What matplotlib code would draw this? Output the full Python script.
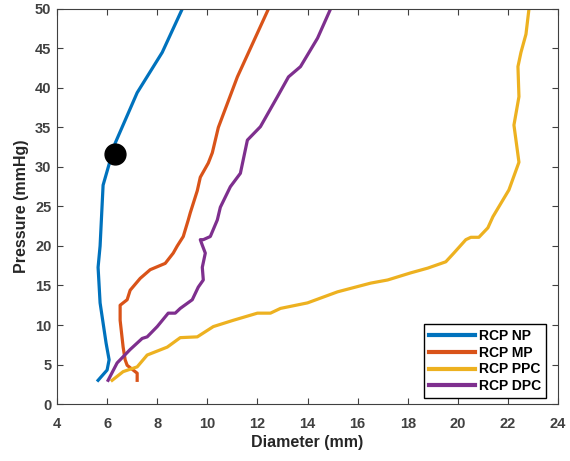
import matplotlib.pyplot as plt

plt.rcParams['font.family'] = ['Liberation Sans', 'DejaVu Sans']

np_x = [5.64, 6.0, 6.08, 5.96, 5.72, 5.64, 5.72, 5.84, 6.32, 7.2, 8.2, 9.0]
np_y = [3.0, 4.3, 5.6, 7.7, 12.8, 17.3, 20.0, 27.7, 33.0, 39.4, 44.5, 50.0]

mp_x = [7.2, 7.2, 7.04, 6.8, 6.72, 6.64, 6.52, 6.52, 6.8, 6.92, 7.32, 7.72, 8.32,
        8.64, 8.8, 9.04, 9.24, 9.32, 9.6, 9.72, 10.04, 10.2, 10.44, 11.2, 12.44]
mp_y = [3.0, 3.9, 4.3, 4.9, 5.6, 7.2, 10.6, 12.5, 13.2, 14.4, 15.9, 17.0, 17.8,
        19.1, 20.0, 21.2, 23.3, 24.2, 27.0, 28.7, 30.5, 31.8, 35.0, 41.4, 50.0]

ppc_x = [6.2, 6.64, 7.2, 7.44, 7.6, 8.4, 8.92, 9.6, 10.24, 11.04, 12.0, 12.52, 12.92,
         14.0, 15.2, 16.52, 17.2, 18.12, 18.8, 19.52, 19.84, 20.32, 20.52, 20.84,
         21.2, 21.4, 22.04, 22.44, 22.24, 22.44, 22.4, 22.52, 22.72, 22.84]
ppc_y = [3.0, 4.1, 4.7, 5.6, 6.2, 7.2, 8.4, 8.5, 9.8, 10.6, 11.5, 11.5, 12.1,
         12.8, 14.2, 15.3, 15.7, 16.6, 17.2, 18.0, 19.1, 20.8, 21.1, 21.1,
         22.3, 23.7, 27.1, 30.6, 35.3, 38.9, 42.7, 44.5, 46.8, 50.0]

dpc_x = [6.04, 6.4, 6.92, 7.4, 7.6, 8.0, 8.44, 8.72, 8.92, 9.4, 9.64, 9.84, 9.8,
         9.92, 9.8, 9.72, 9.84, 10.12, 10.4, 10.52, 10.92, 11.32, 11.6, 12.12,
         12.8, 13.24, 13.72, 14.4, 14.92]
dpc_y = [3.0, 5.2, 6.9, 8.3, 8.5, 9.8, 11.5, 11.5, 12.1, 13.2, 14.8, 15.7, 17.3,
         19.1, 20.1, 20.8, 20.8, 21.2, 23.3, 24.9, 27.5, 29.2, 33.4, 35.1,
         38.9, 41.4, 42.7, 46.3, 50.0]

labels = ['RCP NP', 'RCP MP', 'RCP PPC', 'RCP DPC']
colors = ['#0072BD', '#D95319', '#EDB120', '#7E2F8E']

dot_x, dot_y = 6.32, 31.6

fig = plt.figure(figsize=(5.7, 4.61), dpi=100)
ax = fig.add_axes([0.1, 0.1236, 0.879, 0.857])

for xs, ys, lab, c in zip([np_x, mp_x, ppc_x, dpc_x], [np_y, mp_y, ppc_y, dpc_y], labels, colors):
    ax.plot(xs, ys, color=c, lw=2.3, label=lab)
ax.plot(dot_x, dot_y, 'o', color='black', ms=15, zorder=5)

ax.set_xlim(4, 24)
ax.set_ylim(0, 50)
ax.set_xticks(range(4, 25, 2))
ax.set_yticks(range(0, 51, 5))
ax.tick_params(direction='in', top=True, right=True, length=4, colors='#404040',
               labelsize=10.5, pad=4)
ax.tick_params(axis='x', pad=9)
for t in ax.get_xticklabels() + ax.get_yticklabels():
    t.set_fontweight('bold')
for s in ax.spines.values():
    s.set_color('#404040')
ax.set_xlabel('Diameter (mm)', fontweight='bold', fontsize=11.5, color='#262626',
              labelpad=3)
ax.set_ylabel('Pressure (mmHg)', fontweight='bold', fontsize=11.5, color='#262626',
              labelpad=4)

leg = ax.legend(loc='lower right', bbox_to_anchor=(0.976, 0.015), fancybox=False,
                edgecolor='black', framealpha=1, handlelength=3.3, handletextpad=0.3,
                borderpad=0.35, labelspacing=0.2, borderaxespad=0,
                prop={'weight': 'bold', 'size': 10})
leg.get_frame().set_linewidth(1.0)
for h in leg.get_lines():
    h.set_linewidth(3)

fig.savefig('out.png', dpi=100)
